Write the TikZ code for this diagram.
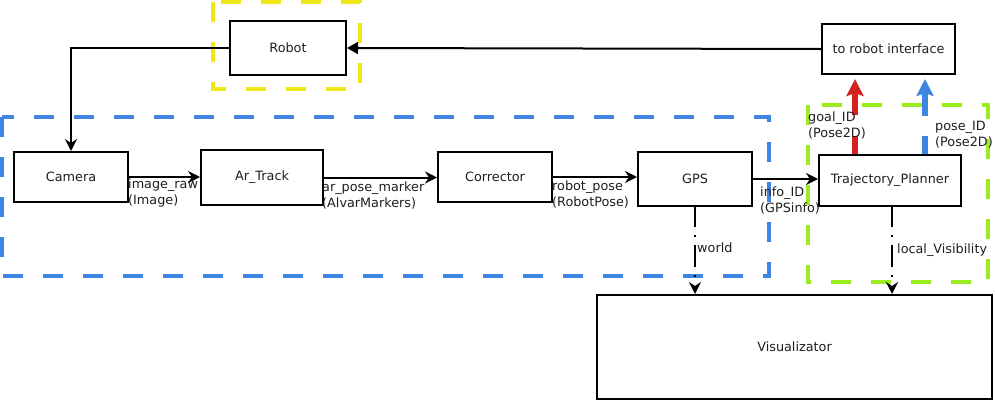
\documentclass[tikz,border=0pt]{standalone}
\usepackage{fontspec}
\setmainfont{DejaVu Sans}
\usetikzlibrary{arrows.meta}
\definecolor{txt}{HTML}{1E1E1E}
\definecolor{ylw}{HTML}{F0E816}
\definecolor{blu}{HTML}{3C85E0}
\definecolor{grn}{HTML}{9AEE20}
\definecolor{rd}{HTML}{D42222}
\tikzset{
  box/.style={draw=black, line width=2pt, inner sep=0pt, text=txt, font=\fontsize{12.8}{15}\selectfont},
  grp/.style={line width=4pt, dash pattern=on 20pt off 20pt},
  conn/.style={draw=black, line width=2pt, -{Stealth[length=12pt 0,width=12pt 0,inset=4pt 0]}},
  lbl/.style={anchor=base west, inner sep=0pt, align=left, text=txt, font=\fontsize{12.8}{15.5}\selectfont},
  fat/.style={line width=5.5pt, -{Stealth[length=17pt 0,width=17pt 0,inset=3pt 0]}},
  gap/.style={fill=white, draw=none},
  dotted conn/.style={conn, dash pattern=on 20pt off 8pt on 2pt off 8pt on 22pt off 8pt on 2pt off 40pt}
}
\begin{document}
\begin{tikzpicture}[x=1pt,y=-1pt]
\useasboundingbox (0,0) rectangle (995,402);
% group frames
\draw[grp, ylw] (213,2) rectangle (360,89);
\draw[grp, blu] (2,117) rectangle (769,276);
\draw[grp, grn] (808,105) rectangle (988,282);
% nodes
\node[box, minimum width=116pt, minimum height=54pt] (robot) at (288,48) {Robot};
\node[box, minimum width=133pt, minimum height=50pt] (iface) at (888.5,49) {to robot interface};
\node[box, minimum width=114pt, minimum height=50pt] (camera) at (71,177) {Camera};
\node[box, minimum width=122pt, minimum height=55pt] (artrack) at (262,177.5) {Ar\_Track};
\node[box, minimum width=114pt, minimum height=50pt] (corrector) at (495,177) {Corrector};
\node[box, minimum width=114pt, minimum height=54pt] (gps) at (695,179) {GPS};
\node[box, minimum width=142pt, minimum height=51pt] (tp) at (890,180.5) {Trajectory\_Planner};
\node[box, minimum width=395pt, minimum height=104pt] (vis) at (794.5,347) {Visualizator};
% connectors
\draw[conn] (robot.west) -| (camera.north);
\draw[draw=black, line width=2pt, -{Triangle[length=11pt 0,width=12pt 0]}] (iface.west) -- (robot.east);
\draw[conn] (camera.east) -- (camera.east -| artrack.west);
\draw[conn] (artrack.east) -- (artrack.east -| corrector.west);
\draw[conn] (corrector.east) -- (corrector.east -| gps.west);
\draw[conn] (gps.east) -- (gps.east -| tp.west);
\draw[dotted conn] (gps.south) -- (gps.south |- vis.north);
\draw[dotted conn] ([xshift=2pt]tp.south) -- ([xshift=2pt]tp.south |- vis.north);
\draw[fat, draw=rd] ([xshift=-35pt]tp.north) -- ([xshift=-35pt,yshift=-4pt]tp.north |- iface.south);
\draw[fat, draw=blu] ([xshift=35pt]tp.north) -- ([xshift=35pt,yshift=-4pt]tp.north |- iface.south);
\path[gap] (850,115) rectangle (860,136);
\path[gap] (920,116) rectangle (930,136);
% labels
\node[lbl] (l1) at (128,204) {image\_raw\\(Image)};
\node[lbl] (l2) at (322,207) {ar\_pose\_marker\\(AlvarMarkers)};
\node[lbl] (l3) at (552,206) {robot\_pose\\(RobotPose)};
\node[lbl] (l4) at (760,212) {info\_ID\\(GPSinfo)};
\node[lbl] (l5) at (697,252) {world};
\node[lbl] (l6) at (897,253) {local\_Visibility};
\node[lbl] (l7) at (808,137) {goal\_ID\\(Pose2D)};
\node[lbl] (l8) at (935,146) {pose\_ID\\(Pose2D)};
\end{tikzpicture}
\end{document}
